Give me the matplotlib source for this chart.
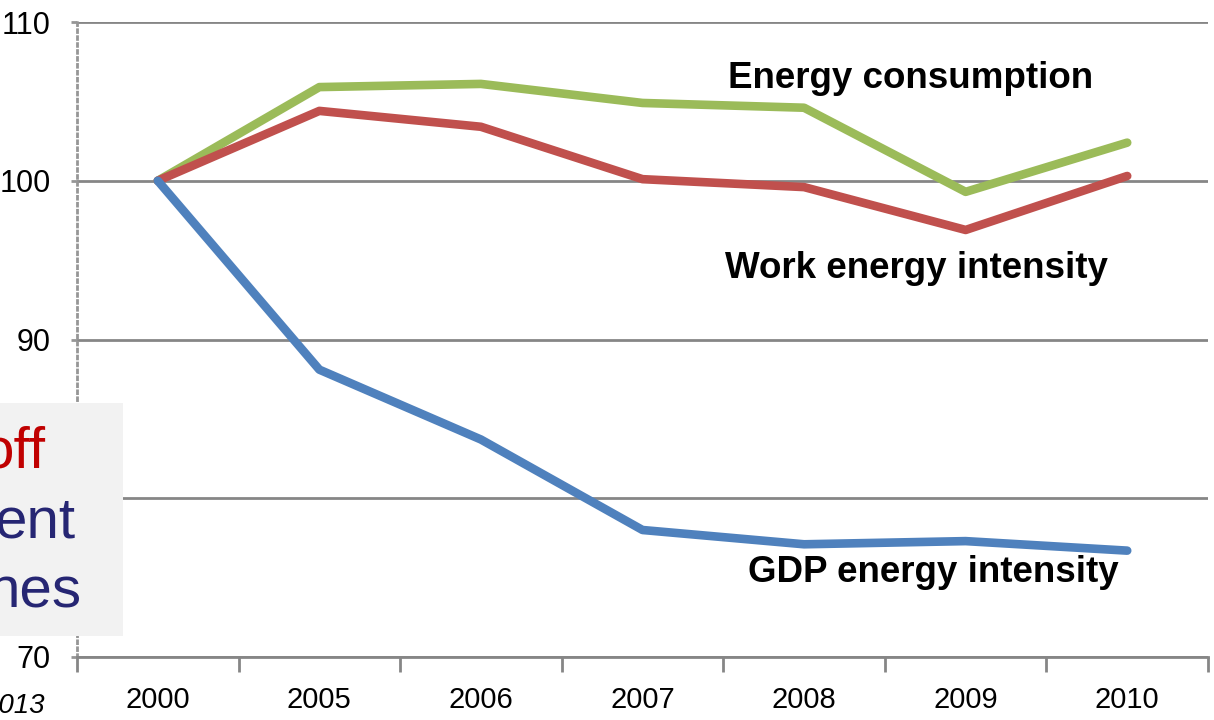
import matplotlib.pyplot as plt
from matplotlib.patches import Rectangle

years = ["2000", "2005", "2006", "2007", "2008", "2009", "2010"]
energy_consumption = [100, 105.9, 106.1, 104.9, 104.6, 99.3, 102.4]
work_intensity = [100, 104.4, 103.4, 100.1, 99.6, 96.9, 100.3]
gdp_intensity = [100, 88.1, 83.7, 78.0, 77.1, 77.3, 76.7]

plt.rcParams['font.family'] = ['Liberation Sans', 'DejaVu Sans']

fig = plt.figure(figsize=(12.14, 7.2), dpi=100)
ax = fig.add_axes([77 / 1214, 63 / 720, (1208 - 77) / 1214, (657 - 22) / 720])

x = list(range(len(years)))
ax.plot(x, energy_consumption, color='#9bbb59', lw=6.2, solid_capstyle='round', solid_joinstyle='round', zorder=3)
ax.plot(x, work_intensity, color='#c0504d', lw=6.2, solid_capstyle='round', solid_joinstyle='round', zorder=3)
ax.plot(x, gdp_intensity, color='#4f81bd', lw=6.2, solid_capstyle='round', solid_joinstyle='round', zorder=3)

ax.set_xlim(-0.5, len(years) - 0.5)
ax.set_ylim(70, 110)
ax.set_yticks([70, 80, 90, 100, 110])
ax.yaxis.grid(True, color='#868686', lw=2)
ax.set_axisbelow(True)

# category labels sit between the tick marks
ax.set_xticks(x)
ax.set_xticklabels(years, fontsize=21)
ax.tick_params(axis='x', which='major', length=0, pad=21)
ax.set_xticks([i - 0.5 for i in range(len(years) + 1)], minor=True)
ax.tick_params(axis='x', which='minor', length=11, width=2, color='#868686', direction='out')
ax.tick_params(axis='y', labelsize=22, length=4, width=2, color='#969696', pad=15)

for s in ['top', 'right']:
    ax.spines[s].set_visible(False)
ax.spines['bottom'].set_color('#868686')
ax.spines['bottom'].set_linewidth(2)
ax.spines['left'].set_color('#969696')
ax.spines['left'].set_linewidth(2)
ax.spines['left'].set_linestyle((0, (1, 1.5)))

lab = dict(fontsize=26.5, fontweight='bold', ha='left', va='baseline')
ax.text(3.53, 105.84, "Energy consumption", **lab)
ax.text(3.51, 93.87, "Work energy intensity", **lab)
ax.text(3.65, 74.72, "GDP energy intensity", **lab)

# cropped slide panel at the left
fig.patches.append(Rectangle((0, (720 - 636) / 720), 123 / 1214, (636 - 403) / 720,
                             transform=fig.transFigure, facecolor='#f2f2f2',
                             edgecolor='none', zorder=10))
box = dict(fontsize=42, ha='right', va='center', zorder=11)
fig.text(46 / 1214, 1 - 453 / 720, "off", color='#c00000', **box)
fig.text(76 / 1214, 1 - 522 / 720, "ent", color='#262673', **box)
fig.text(81 / 1214, 1 - 593 / 720, "nes", color='#262673', **box)
fig.text(45 / 1214, 1 - 706 / 720, "2013", fontsize=20, style='italic', ha='right', va='center')

fig.savefig('out.png', dpi=100)
